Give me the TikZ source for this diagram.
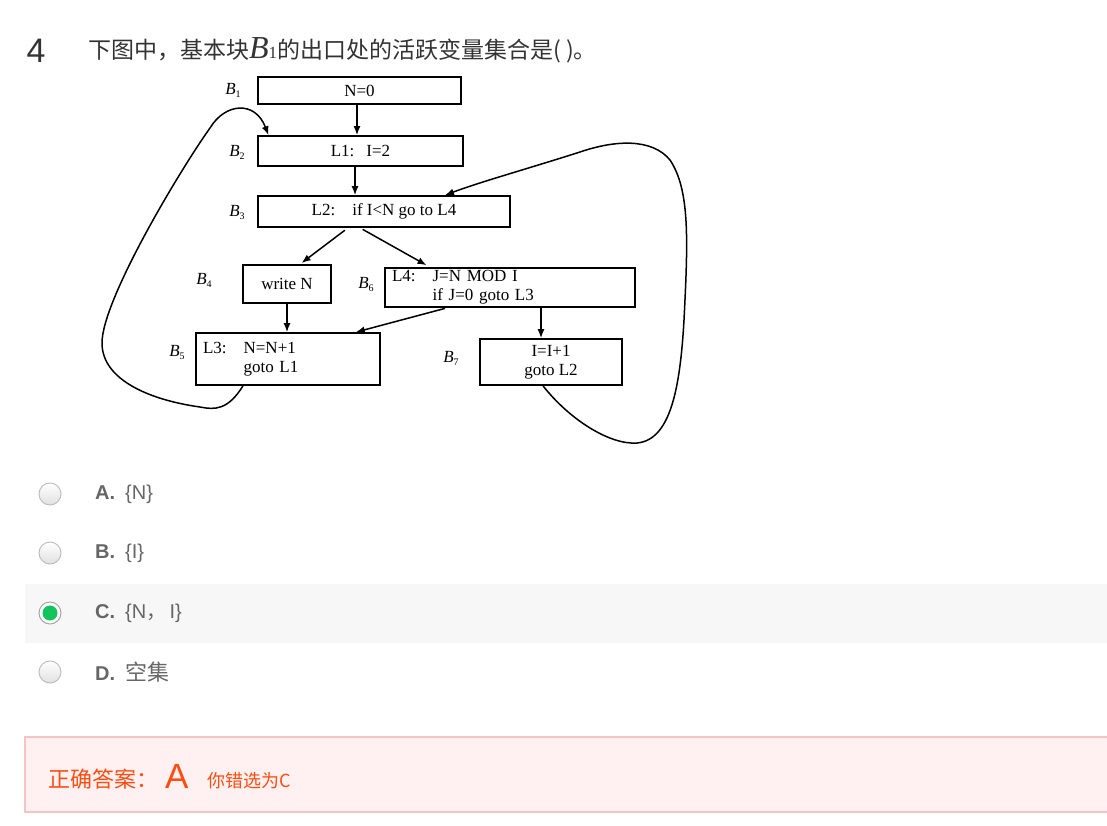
\documentclass[tikz,border=0pt]{standalone}
\usepackage{fontspec}
\setmainfont{Liberation Serif}
\newfontfamily\cjk{Noto Sans CJK SC}
\newfontfamily\arial{Liberation Sans}
\usetikzlibrary{arrows.meta,positioning,calc}
\definecolor{QText}{HTML}{333333}
\definecolor{OptGray}{HTML}{666666}
\definecolor{PickGreen}{HTML}{12C45A}
\definecolor{RowGray}{HTML}{F7F7F7}
\definecolor{AnsRed}{HTML}{FF4D12}
\definecolor{AnsFill}{HTML}{FFF1F1}
\definecolor{AnsLine}{HTML}{F6C3C3}
\newcommand{\blk}[1]{{\itshape B}\raisebox{-3pt}{\fontsize{10}{10}\selectfont #1}}

\begin{document}
\begin{tikzpicture}[x=1pt,y=-1pt,
    blockbox/.style={draw,line width=1.7pt,inner sep=0pt,font=\fontsize{17}{19}\selectfont},
    blab/.style={font=\fontsize{17}{19}\selectfont},
    flow/.style={-{Latex[length=9pt,width=7pt]},line width=1.5pt},
    radio/.style={circle,draw=black!25,top color=white,bottom color=black!12,minimum size=22pt,inner sep=0pt,line width=1pt},
    opt/.style={anchor=west,text=OptGray,inner sep=0pt,font=\arial\fontsize{20}{22}\selectfont}]
        \useasboundingbox (0,0) rectangle (1107,825);
        % question
        \node[text=QText,font=\arial\fontsize{34}{36}\selectfont] (qnum) at (36,51) {4};
        \node[anchor=west,text=QText,inner sep=0pt] (qtext) at (88,50) {{\cjk\fontsize{23}{26}\selectfont 下图中，基本块}{\fontsize{32}{34}\selectfont\itshape B}{\fontsize{17}{20}\selectfont 1}{\cjk\fontsize{23}{26}\selectfont 的出口处的活跃变量集合是(\hspace{5pt})。}};
        % flow graph
        \node[blockbox,minimum width=203pt,minimum height=27pt] (b1) at (359.5,90.5) {N=0};
        \node[blockbox,minimum width=205pt,minimum height=30pt] (b2) at (360.5,151) {L1:\hspace{12pt}I=2};
        \node[blockbox,minimum width=252pt,minimum height=31pt] (b3) at (384,211.5) {L2:\hspace{17pt}if I<N go to L4};
        \node[blockbox,minimum width=88pt,minimum height=38pt] (b4) at (287,284) {write N};
        \node[blockbox,minimum height=39pt,text width=236pt,inner xsep=7pt,align=left] (b6) at (510,287.5) {\begin{tabular}{@{}l@{\hspace{17pt}}l@{}}L4: & J=N MOD I\\ & if J=0 goto L3\end{tabular}};
        \node[blockbox,minimum height=52pt,text width=170pt,inner xsep=7pt,align=left] (b5) at (288,359) {\begin{tabular}{@{}l@{\hspace{17pt}}l@{}}L3: & N=N+1\\ & goto L1\end{tabular}};
        \node[blockbox,minimum width=142pt,minimum height=46pt,align=center] (b7) at (551,362) {I=I+1\\goto L2};
        \node[blab] (l1) at (233,90) {\blk{1}};
        \node[blab] (l2) at (237,152) {\blk{2}};
        \node[blab] (l3) at (237,212) {\blk{3}};
        \node[blab] (l4) at (204,280) {\blk{4}};
        \node[blab] (l6) at (366,284) {\blk{6}};
        \node[blab] (l5) at (177,352) {\blk{5}};
        \node[blab] (l7) at (451,358) {\blk{7}};
        \draw[flow] ([xshift=-2.5pt]b1.south) -- ([xshift=-3.5pt]b2.north);
        \draw[flow] ([xshift=-5.5pt]b2.south) -- ([xshift=-29pt]b3.north);
        \draw[flow,shorten <=4pt,shorten >=2pt] ([xshift=-36pt]b3.south) -- ([xshift=13pt]b4.north);
        \draw[flow,shorten <=3pt,shorten >=4pt] ([xshift=-24pt]b3.south) -- ([xshift=-80pt]b6.north);
        \draw[flow] (b4.south) -- (b4.south |- b5.north);
        \draw[flow] ([xshift=31pt]b6.south) -- ([xshift=31pt]b6.south |- b7.north);
        \draw[flow,shorten <=2pt] ([xshift=-63pt]b6.south) -- ([xshift=-25pt]b5.north east);
        \draw[flow] ([xshift=-45pt]b5.south) .. controls (228,410) and (215,410) .. (200,407) .. controls (150,400) and (102,380) .. (102,343) .. controls (102,300) and (180,170) .. (210,128) .. controls (225,103) and (255,100) .. ([xshift=-92pt]b2.north);
        \draw[flow] ([xshift=-8pt]b7.south) .. controls (570,420) and (610,445) .. (637,443) .. controls (670,440) and (680,390) .. (684,320) .. controls (688,240) and (690,190) .. (670,160) .. controls (652,138) and (615,140) .. (580,152) .. controls (530,168) and (480,182) .. ([xshift=61pt]b3.north);
        % options
        \fill[RowGray] (25,584) rectangle (1107,643);
        \node[radio] (ra) at (50,494) {};
        \node[radio] (rb) at (50,553) {};
        \node[radio,draw=black!35,top color=white,bottom color=white] (rc) at (50,613) {};
        \node[circle,fill=PickGreen,minimum size=15pt,inner sep=0pt] (rcdot) at (rc) {};
        \node[radio] (rd) at (50,672) {};
        \node[opt] (oa) at (95,494) {\textbf{A.}\hspace{10pt}\{N\}};
        \node[opt] (ob) at (95,553) {\textbf{B.}\hspace{10pt}\{I\}};
        \node[opt] (oc) at (95,613) {\textbf{C.}\hspace{10pt}\{N{\cjk ，}\,I\}};
        \node[opt] (od) at (95,672) {\textbf{D.}\hspace{10pt}{\cjk\fontsize{22}{24}\selectfont 空集}};
        % answer
        \draw[AnsLine,fill=AnsFill,line width=1.5pt] (25,737) rectangle (1112,812);
        \node[anchor=base west,text=AnsRed,inner sep=0pt,font=\cjk\fontsize{22}{24}\selectfont] (anslbl) at (48,787) {正确答案：};
        \node[anchor=base west,text=AnsRed,inner sep=0pt,font=\arial\fontsize{35}{38}\selectfont] (ansval) at (165,788) {A};
        \node[anchor=base west,text=AnsRed,inner sep=0pt,font=\cjk\fontsize{18}{20}\selectfont] (anspick) at (207,787) {你错选为C};
\end{tikzpicture}
\end{document}
